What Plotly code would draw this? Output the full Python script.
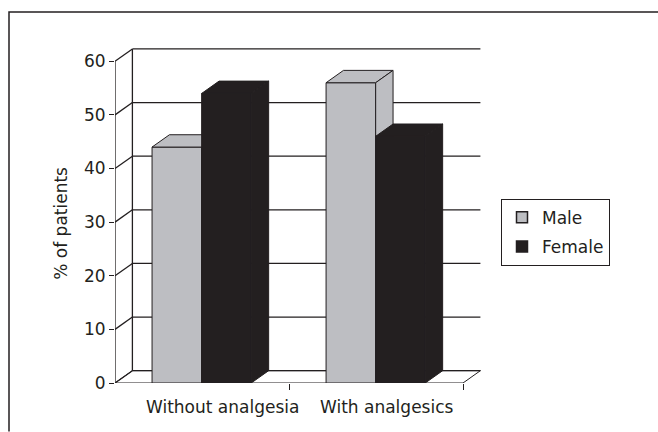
import plotly.graph_objects as go

# ---- data -------------------------------------------------------------
categories = ["Without analgesia", "With analgesics"]
male = [44, 56]
female = [54, 46]
y_ticks = [0, 10, 20, 30, 40, 50, 60]
series_names = ["Male", "Female"]

# ---- styling / geometry -----------------------------------------------
GRAY = "#BDBEC2"
DARK = "#231F20"
FONT = dict(family="DejaVu Sans", size=17, color=DARK)

W, H = 658, 432
ML, MR, MT, MB = 115, 177, 45, 48.5
X_MAX = 2.1034                     # two category slots plus depth
PLOT_W = W - ML - MR
PLOT_H = H - MT - MB
PX_PER_UNIT = 5.37
Y_MAX = PLOT_H / PX_PER_UNIT

GROUP_START = 0.213                # offset of first bar inside a slot
BAR_W = 0.285                      # width of a bar's front face
DX, DY = 0.10, 2.3                 # depth offset of the 3-D extrusion
WALL_TOP = max(y_ticks)
N = len(categories)


def px_x(px):
    """pixel column -> paper x"""
    return (px - ML) / PLOT_W


def px_y(py):
    """pixel row -> paper y"""
    return (H - MB - py) / PLOT_H


def poly(points, fill):
    xs = [p[0] for p in points] + [points[0][0]]
    ys = [p[1] for p in points] + [points[0][1]]
    return go.Scatter(
        x=xs, y=ys, mode="lines", fill="toself", fillcolor=fill,
        line=dict(color=DARK, width=1), hoverinfo="skip", showlegend=False,
    )


fig = go.Figure()

# floor
fig.add_trace(poly([(0, 0), (N, 0), (N + DX, DY), (DX, DY)], "white"))

# back wall gridlines, left wall diagonals, back-left edge and front axis
lx, ly = [], []
for v in y_ticks:
    lx += [DX, N + DX, None, 0, DX, None]
    ly += [v + DY, v + DY, None, v, v + DY, None]
lx += [DX, DX, None, 0, 0]
ly += [DY, WALL_TOP + DY, None, 0, WALL_TOP]
fig.add_trace(go.Scatter(x=lx, y=ly, mode="lines",
                         line=dict(color=DARK, width=1.3),
                         hoverinfo="skip", showlegend=False))


def add_box(x0, h, color):
    x1 = x0 + BAR_W
    fig.add_trace(poly([(x0, 0), (x1, 0), (x1, h), (x0, h)], color))
    fig.add_trace(poly([(x0, h), (x1, h), (x1 + DX, h + DY), (x0 + DX, h + DY)], color))
    fig.add_trace(poly([(x1, 0), (x1 + DX, DY), (x1 + DX, h + DY), (x1, h)], color))


for i in range(N):
    add_box(i + GROUP_START, male[i], GRAY)
    add_box(i + GROUP_START + BAR_W, female[i], DARK)

# legend entries
for nm, col in zip(series_names, [GRAY, DARK]):
    fig.add_trace(go.Scatter(
        x=[None], y=[None], mode="markers", name=nm, legendgroup=nm,
        marker=dict(symbol="square", size=11, color=col,
                    line=dict(color=DARK, width=1.5)),
    ))

# category labels and axis title (paper coordinates)
x_per_unit = PLOT_W / X_MAX
annotations = []
for i, c in enumerate(categories):
    annotations.append(dict(x=px_x(ML + (i + 0.166) * x_per_unit),
                            y=px_y(408), xref="paper", yref="paper",
                            text=c, showarrow=False, xanchor="left",
                            yanchor="middle", font=FONT))
annotations.append(dict(x=px_x(61), y=px_y(224), xref="paper", yref="paper",
                        text="% of patients", showarrow=False,
                        xanchor="center", yanchor="middle",
                        textangle=-90, font=FONT))

fig.update_layout(
    width=W, height=H,
    margin=dict(l=ML, r=MR, t=MT, b=MB, pad=0),
    paper_bgcolor="white", plot_bgcolor="white",
    font=FONT,
    xaxis=dict(range=[0, X_MAX], showgrid=False, zeroline=False,
               showline=False, tickvals=[1, 2], ticks="outside",
               ticklen=6, tickwidth=1.3, tickcolor=DARK,
               showticklabels=False, fixedrange=True),
    yaxis=dict(range=[0, Y_MAX], showgrid=False, zeroline=False,
               showline=False, tickvals=y_ticks, ticks="outside",
               ticklen=5, tickwidth=1.3, tickcolor=DARK,
               tickfont=FONT, fixedrange=True),
    legend=dict(x=px_x(501), y=px_y(199),
                xanchor="left", yanchor="top", bordercolor=DARK,
                borderwidth=1, font=FONT, tracegroupgap=4,
                bgcolor="white"),
    annotations=annotations,
    shapes=[dict(type="path", xref="paper", yref="paper",
                 path=(f"M {px_x(9)} {px_y(H)} L {px_x(9)} {px_y(12)} "
                       f"L {px_x(W)} {px_y(12)}"),
                 line=dict(color=DARK, width=1.5))],
)

fig.write_html("out.html")
